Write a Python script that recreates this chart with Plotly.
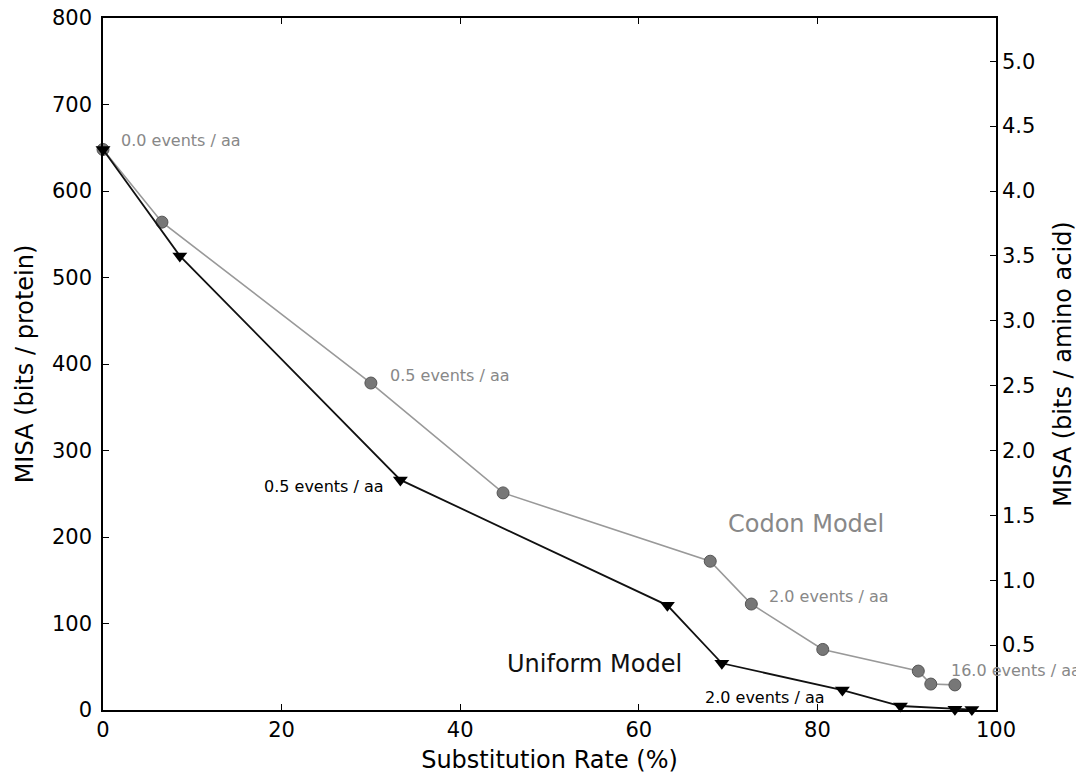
import plotly.graph_objects as go

# Data
codon_rate = [0, 6.6, 30.0, 44.8, 68.0, 72.6, 80.6, 91.3, 92.7, 95.4]
codon_misa = [648, 564, 378, 251, 172, 122.5, 70, 45, 30, 29]
uniform_rate = [0, 8.6, 33.3, 63.2, 69.3, 82.8, 89.3, 95.4, 97.3]
uniform_misa = [648, 525, 266, 121, 54, 23, 4.6, 1, 0.5]

grey_labels = [("0.0 events / aa", 1.9, 658), ("0.5 events / aa", 32.0, 387),
               ("2.0 events / aa", 74.5, 131), ("16.0 events / aa", 94.8, 46)]
black_labels = [("0.5 events / aa", 17.9, 258), ("2.0 events / aa", 67.3, 14)]
model_labels = [("Codon Model", 69.9, 215, "#888888"), ("Uniform Model", 45.1, 53, "#111111")]

FONT = "DejaVu Sans"
fig = go.Figure()
fig.add_trace(go.Scatter(x=codon_rate, y=codon_misa, mode="lines+markers",
                         line=dict(color="#999999", width=1.6),
                         marker=dict(symbol="circle", size=12, color="#777777",
                                     line=dict(color="#555555", width=1)),
                         showlegend=False, cliponaxis=False))
fig.add_trace(go.Scatter(x=uniform_rate, y=uniform_misa, mode="lines+markers",
                         line=dict(color="#111111", width=1.8),
                         marker=dict(symbol="triangle-down", size=13, color="#000000"),
                         showlegend=False, cliponaxis=False))
# invisible trace for the secondary axis
fig.add_trace(go.Scatter(x=[0], y=[0], yaxis="y2", mode="markers",
                         marker=dict(opacity=0), showlegend=False, hoverinfo="skip"))

ann = []
for t, x, y in grey_labels:
    ann.append(dict(x=x, y=y, text=t, xanchor="left", yanchor="middle", showarrow=False,
                    borderpad=0, font=dict(family=FONT, size=16, color="#888888")))
for t, x, y in black_labels:
    ann.append(dict(x=x, y=y, text=t, xanchor="left", yanchor="middle", showarrow=False,
                    borderpad=0, font=dict(family=FONT, size=16, color="#000000")))
for t, x, y, c in model_labels:
    ann.append(dict(x=x, y=y, text=t, xanchor="left", yanchor="middle", showarrow=False,
                    borderpad=0, font=dict(family=FONT, size=24, color=c)))

fig.update_layout(
    width=1084, height=772,
    margin=dict(l=95, r=96, t=10, b=70),
    plot_bgcolor="white", paper_bgcolor="white",
    font=dict(family=FONT, size=21, color="#000000"),
    annotations=ann,
    xaxis=dict(range=[0, 100], tickvals=[0, 20, 40, 60, 80, 100],
               ticks="inside", ticklen=6, tickwidth=1, tickcolor="#000",
               showline=True, linecolor="#000", linewidth=1.5, mirror="ticks",
               showgrid=False, zeroline=False, automargin=False, ticklabeloverflow="allow",
               title=dict(text="Substitution Rate (%)", font=dict(size=24), standoff=10)),
    yaxis=dict(range=[0, 800], tickvals=[0, 100, 200, 300, 400, 500, 600, 700, 800],
               ticks="inside", ticklen=6, tickwidth=1, tickcolor="#000",
               showline=True, linecolor="#000", linewidth=1.5, ticklabelstandoff=5,
               showgrid=False, zeroline=False, automargin=False, ticklabeloverflow="allow",
               title=dict(text="MISA (bits / protein)", font=dict(size=24), standoff=12)),
    yaxis2=dict(range=[0, 800 / 150], overlaying="y", side="right",
                tickvals=[0.5, 1.0, 1.5, 2.0, 2.5, 3.0, 3.5, 4.0, 4.5, 5.0],
                ticktext=["0.5", "1.0", "1.5", "2.0", "2.5", "3.0", "3.5", "4.0", "4.5", "5.0"],
                ticks="inside", ticklen=6, tickwidth=1, tickcolor="#000",
                showline=True, linecolor="#000", linewidth=1.5,
                showgrid=False, zeroline=False, automargin=False, ticklabeloverflow="allow",
                title=dict(text="MISA (bits / amino acid)", font=dict(size=24), standoff=20)),
)

fig.write_html("out.html")
